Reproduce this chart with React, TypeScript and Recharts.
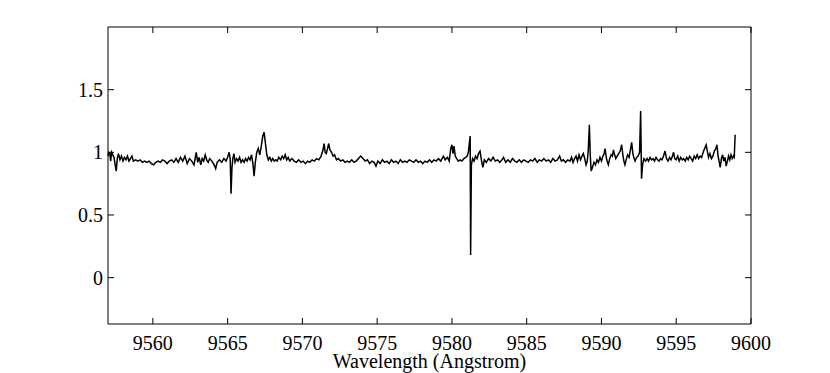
import { LineChart, Line, XAxis, YAxis } from 'recharts';

// Spectrum as [wavelength (Å), normalised flux] pairs, by region
const segA: [number, number][] = [
  [9557.0, 0.97], [9557.05, 1.0], [9557.12, 0.99], [9557.18, 0.93], [9557.24, 1.0], [9557.32, 0.98],
  [9557.4, 0.96], [9557.48, 0.9], [9557.55, 0.85], [9557.62, 0.95], [9557.7, 0.99], [9557.8, 0.94],
  [9557.9, 0.97], [9558.0, 0.93], [9558.1, 0.96], [9558.2, 0.94], [9558.3, 0.97], [9558.4, 0.93],
  [9558.5, 0.95], [9558.6, 0.97], [9558.7, 0.93], [9558.85, 0.94], [9559.0, 0.93], [9559.15, 0.94],
  [9559.3, 0.92], [9559.45, 0.93], [9559.6, 0.92], [9559.75, 0.93], [9559.9, 0.91], [9560.05, 0.9],
  [9560.2, 0.92], [9560.35, 0.93], [9560.5, 0.92], [9560.65, 0.94], [9560.8, 0.93], [9560.95, 0.91],
  [9561.1, 0.93], [9561.25, 0.94], [9561.4, 0.92], [9561.55, 0.95], [9561.7, 0.92], [9561.85, 0.96],
  [9562.0, 0.93], [9562.15, 0.97], [9562.3, 0.91], [9562.45, 0.95],
];

const segB: [number, number][] = [
  [9562.6, 0.93], [9562.75, 0.9], [9562.9, 1.0], [9563.0, 0.92], [9563.1, 0.96], [9563.2, 0.9],
  [9563.3, 0.95], [9563.4, 0.93], [9563.5, 0.98], [9563.6, 0.94], [9563.7, 0.92], [9563.8, 0.95],
  [9563.95, 0.93], [9564.1, 0.9], [9564.2, 0.87], [9564.3, 0.92], [9564.45, 0.94], [9564.6, 0.92],
  [9564.75, 0.95], [9564.9, 0.93], [9565.0, 0.96], [9565.1, 1.0], [9565.17, 0.95], [9565.23, 0.67],
  [9565.29, 0.88], [9565.35, 0.95], [9565.42, 0.99], [9565.5, 0.92], [9565.6, 0.95], [9565.7, 0.93],
  [9565.8, 0.96], [9565.9, 0.92],
];

const segC: [number, number][] = [
  [9566.0, 0.94], [9566.1, 0.92], [9566.2, 0.95], [9566.3, 0.93], [9566.4, 0.96], [9566.5, 0.94],
  [9566.6, 0.98], [9566.7, 0.9], [9566.77, 0.81], [9566.85, 0.92], [9566.95, 1.0], [9567.05, 1.03],
  [9567.15, 0.98], [9567.25, 1.05], [9567.35, 1.13], [9567.44, 1.16], [9567.52, 1.08], [9567.62, 0.98],
  [9567.72, 0.94], [9567.82, 0.96], [9567.92, 0.93], [9568.02, 0.95], [9568.12, 0.93], [9568.22, 0.94],
  [9568.32, 0.93], [9568.42, 0.96],
];

const segD: [number, number][] = [
  [9568.55, 0.94], [9568.65, 0.97], [9568.75, 0.95], [9568.85, 0.98], [9568.95, 0.94], [9569.05, 0.96],
  [9569.15, 0.93], [9569.3, 0.95], [9569.45, 0.93], [9569.6, 0.92], [9569.75, 0.94], [9569.9, 0.92],
  [9570.05, 0.93], [9570.2, 0.91], [9570.35, 0.93], [9570.5, 0.92], [9570.65, 0.94], [9570.8, 0.93],
  [9570.95, 0.95], [9571.1, 0.94], [9571.25, 0.97], [9571.38, 1.02], [9571.45, 1.07], [9571.52, 1.0],
  [9571.6, 0.99], [9571.68, 1.03], [9571.76, 1.07], [9571.84, 1.02], [9571.95, 1.0], [9572.05, 0.97],
  [9572.15, 0.98], [9572.28, 0.94], [9572.4, 0.95], [9572.55, 0.93], [9572.7, 0.94], [9572.85, 0.92],
  [9573.0, 0.93], [9573.15, 0.92], [9573.3, 0.94], [9573.45, 0.92], [9573.6, 0.93], [9573.75, 0.95],
  [9573.9, 0.97], [9574.05, 0.95], [9574.2, 0.93], [9574.35, 0.94], [9574.5, 0.91], [9574.65, 0.93],
  [9574.8, 0.92], [9574.92, 0.89],
];

const segE: [number, number][] = [
  [9575.05, 0.93], [9575.2, 0.91], [9575.35, 0.94], [9575.5, 0.92], [9575.65, 0.93], [9575.8, 0.91],
  [9575.95, 0.94], [9576.1, 0.92], [9576.25, 0.93], [9576.4, 0.91], [9576.55, 0.94], [9576.7, 0.92],
  [9576.85, 0.93], [9577.0, 0.92], [9577.15, 0.94], [9577.3, 0.93], [9577.45, 0.92], [9577.6, 0.94],
  [9577.75, 0.92], [9577.9, 0.93], [9578.05, 0.91], [9578.2, 0.93], [9578.35, 0.92], [9578.5, 0.94],
  [9578.65, 0.92], [9578.8, 0.94], [9578.95, 0.93], [9579.1, 0.95], [9579.25, 0.93], [9579.43, 0.97],
  [9579.55, 0.94], [9579.7, 0.96], [9579.82, 0.93], [9579.92, 1.03], [9580.0, 1.06], [9580.07, 0.99],
  [9580.14, 1.05], [9580.22, 0.97], [9580.32, 0.95], [9580.43, 0.93], [9580.55, 0.94], [9580.67, 0.93],
  [9580.8, 0.95], [9580.92, 0.96], [9581.02, 0.97], [9581.1, 1.0], [9581.17, 1.08], [9581.22, 1.13],
  [9581.25, 0.18], [9581.3, 0.9], [9581.38, 0.95], [9581.48, 0.93], [9581.58, 0.97], [9581.68, 0.95],
  [9581.78, 0.99], [9581.88, 1.01], [9581.97, 0.94], [9582.07, 0.88],
];

const segF: [number, number][] = [
  [9582.17, 0.94], [9582.3, 0.92], [9582.45, 0.95], [9582.6, 0.93], [9582.75, 0.96], [9582.9, 0.93],
  [9583.05, 0.94], [9583.2, 0.92], [9583.35, 0.94], [9583.45, 0.96], [9583.6, 0.92], [9583.75, 0.94],
  [9583.9, 0.92], [9584.05, 0.95], [9584.2, 0.93], [9584.35, 0.92], [9584.5, 0.94], [9584.65, 0.92],
  [9584.8, 0.94], [9584.95, 0.93], [9585.1, 0.92], [9585.25, 0.94], [9585.4, 0.93], [9585.55, 0.95],
  [9585.7, 0.92], [9585.85, 0.94], [9586.0, 0.93], [9586.15, 0.95], [9586.3, 0.93], [9586.45, 0.94],
  [9586.6, 0.92], [9586.75, 0.95], [9586.9, 0.93], [9587.05, 0.94], [9587.2, 0.97], [9587.32, 0.93],
  [9587.45, 0.94], [9587.6, 0.92], [9587.75, 0.94], [9587.9, 0.93], [9588.0, 0.96], [9588.1, 0.92],
  [9588.2, 0.95], [9588.3, 0.97], [9588.4, 0.93], [9588.5, 0.98], [9588.6, 0.94], [9588.7, 0.97],
  [9588.79, 0.99], [9588.88, 0.95], [9588.97, 0.9], [9589.05, 0.93], [9589.12, 1.02], [9589.19, 1.22],
  [9589.25, 0.98], [9589.31, 0.85], [9589.4, 0.88], [9589.5, 0.92], [9589.6, 0.9], [9589.7, 0.94],
  [9589.8, 0.92], [9589.9, 0.96],
];

const segG: [number, number][] = [
  [9590.0, 0.93], [9590.1, 0.97], [9590.18, 0.99], [9590.24, 1.03], [9590.32, 0.96], [9590.4, 0.92],
  [9590.46, 0.9], [9590.55, 0.95], [9590.65, 0.98], [9590.73, 0.97], [9590.8, 1.02], [9590.88, 0.98],
  [9590.96, 0.95], [9591.05, 0.97], [9591.15, 0.99], [9591.25, 1.01], [9591.35, 1.06], [9591.43, 0.98],
  [9591.5, 0.93], [9591.57, 0.9], [9591.65, 0.94], [9591.75, 0.98], [9591.85, 0.96], [9591.95, 1.03],
  [9592.02, 1.08], [9592.1, 0.99], [9592.18, 0.95], [9592.25, 0.93], [9592.35, 0.96], [9592.45, 0.97],
  [9592.55, 1.0], [9592.62, 1.33], [9592.68, 0.79], [9592.75, 0.9], [9592.84, 0.95], [9592.95, 0.93],
];

const segH: [number, number][] = [
  [9593.05, 0.95], [9593.15, 0.93], [9593.25, 0.96], [9593.35, 0.94], [9593.45, 0.95], [9593.55, 0.93],
  [9593.65, 0.96], [9593.75, 0.94], [9593.85, 0.93], [9593.95, 0.95], [9594.05, 0.94], [9594.15, 0.97],
  [9594.25, 1.01], [9594.35, 0.95], [9594.45, 0.93], [9594.55, 0.96], [9594.65, 0.94], [9594.75, 0.97],
  [9594.82, 1.0], [9594.9, 0.95], [9595.0, 0.94], [9595.1, 0.97], [9595.2, 0.93], [9595.3, 0.96],
  [9595.4, 0.94], [9595.5, 0.95], [9595.6, 0.93], [9595.7, 0.96], [9595.8, 0.94], [9595.9, 0.97],
  [9596.0, 0.95], [9596.1, 0.93], [9596.2, 0.97], [9596.3, 0.95], [9596.4, 0.98], [9596.5, 0.95],
  [9596.6, 0.97], [9596.7, 0.96], [9596.8, 1.0], [9596.9, 1.03], [9597.0, 1.06], [9597.08, 1.01],
  [9597.16, 0.96], [9597.25, 0.99], [9597.35, 0.95], [9597.45, 0.97], [9597.55, 1.01], [9597.65, 1.03],
  [9597.72, 1.06], [9597.8, 0.97], [9597.88, 0.92], [9597.94, 0.88], [9598.02, 0.95], [9598.1, 0.98],
  [9598.18, 0.93], [9598.26, 0.96], [9598.34, 0.89], [9598.42, 0.93], [9598.5, 0.97], [9598.58, 0.94],
  [9598.66, 0.98], [9598.74, 0.95], [9598.82, 0.97], [9598.88, 0.96], [9598.94, 1.14],
];

const xTicks = [9560, 9565, 9570, 9575, 9580, 9585, 9590, 9595, 9600];
const yTicks = [0, 0.5, 1, 1.5];
const xDomain = [9557, 9600];
const yDomain = [-0.37, 2];
const xLabel = 'Wavelength (Angstrom)';

const data = [...segA, ...segB, ...segC, ...segD, ...segE, ...segF, ...segG, ...segH].map(
  ([w, f]) => ({ w, f })
);

const FONT = "'Liberation Serif', 'Times New Roman', serif";
const TICK_LEN = 6;
const textStyle = { fontFamily: FONT, fontSize: 20, fill: '#000' };

// matlab-style ticks: small marks pointing into the box
const BottomTick = ({ x, y, payload }: any) => (
  <g>
    <line x1={x} x2={x} y1={y} y2={y - TICK_LEN} stroke="#000" />
    <text x={x} y={y + 26} textAnchor="middle" style={textStyle}>
      {payload.value}
    </text>
  </g>
);

const TopTick = ({ x, y }: any) => (
  <line x1={x} x2={x} y1={y} y2={y + TICK_LEN} stroke="#000" />
);

const LeftTick = ({ x, y, payload }: any) => (
  <g>
    <line x1={x} x2={x + TICK_LEN} y1={y} y2={y} stroke="#000" />
    <text x={x - 5} y={y} dy="0.35em" textAnchor="end" style={textStyle}>
      {payload.value}
    </text>
  </g>
);

const RightTick = ({ x, y }: any) => (
  <line x1={x} x2={x - TICK_LEN} y1={y} y2={y} stroke="#000" />
);

const AxisTitle = ({ viewBox }: any) => (
  <text
    x={viewBox.x + viewBox.width / 2}
    y={viewBox.y + viewBox.height - 5}
    textAnchor="middle"
    style={textStyle}
  >
    {xLabel}
  </text>
);

export default function App() {
  return (
    <div style={{ position: 'absolute', left: 0, top: 0, background: '#fff' }}>
      <LineChart width={830} height={373} data={data} margin={{ top: 0, right: 0, bottom: 0, left: 0 }}>
        <XAxis
          dataKey="w"
          type="number"
          domain={xDomain}
          ticks={xTicks}
          interval={0}
          height={49}
          tickSize={0}
          tickMargin={0}
          tickLine={false}
          tick={<BottomTick />}
          axisLine={{ stroke: '#000' }}
          label={{ content: <AxisTitle /> }}
        />
        <XAxis
          xAxisId="top"
          orientation="top"
          dataKey="w"
          type="number"
          domain={xDomain}
          ticks={xTicks}
          interval={0}
          height={27}
          tickSize={0}
          tickMargin={0}
          tickLine={false}
          tick={<TopTick />}
          axisLine={{ stroke: '#000' }}
        />
        <YAxis
          type="number"
          domain={yDomain}
          ticks={yTicks}
          interval={0}
          width={108}
          tickSize={0}
          tickMargin={0}
          tickLine={false}
          tick={<LeftTick />}
          axisLine={{ stroke: '#000' }}
          allowDataOverflow
        />
        <YAxis
          yAxisId="right"
          orientation="right"
          type="number"
          domain={yDomain}
          ticks={yTicks}
          interval={0}
          width={79}
          tickSize={0}
          tickMargin={0}
          tickLine={false}
          tick={<RightTick />}
          axisLine={{ stroke: '#000' }}
          allowDataOverflow
        />
        <Line
          type="linear"
          dataKey="f"
          stroke="#000"
          strokeWidth={1.5}
          dot={false}
          isAnimationActive={false}
        />
      </LineChart>
    </div>
  );
}
